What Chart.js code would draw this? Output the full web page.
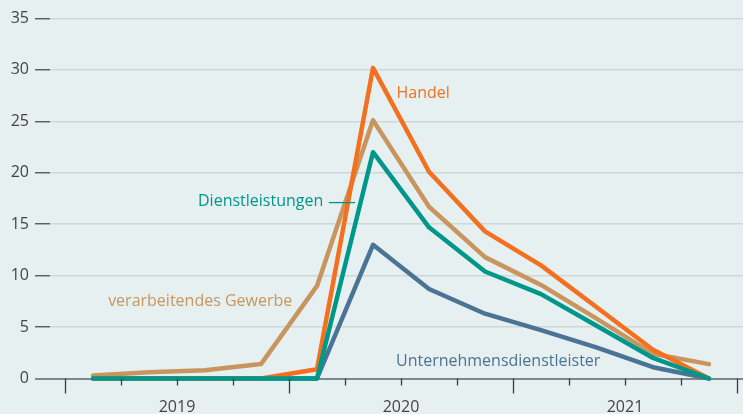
<!DOCTYPE html>
<html lang="de">
<head>
<meta charset="utf-8">
<script src="https://cdn.jsdelivr.net/npm/chart.js@4.4.1/dist/chart.umd.min.js"></script>
<style>
  html, body { margin: 0; padding: 0; background: #e7f0f1; }
  #wrap { width: 743px; height: 414px; }
</style>
</head>
<body>
<div id="wrap"><canvas id="chart"></canvas></div>
<script>
// Quartale 2019 Q1 bis 2021 Q4
const quarters = ['2019 Q1', '2019 Q2', '2019 Q3', '2019 Q4',
                  '2020 Q1', '2020 Q2', '2020 Q3', '2020 Q4',
                  '2021 Q1', '2021 Q2', '2021 Q3', '2021 Q4'];
const years = ['2019', '2020', '2021'];
const yearCenters = [1.5, 5.5, 9.5];
const yTicks = [0, 5, 10, 15, 20, 25, 30, 35];

const handel = [0, 0, 0, 0, 0.9, 30.2, 20.1, 14.3, 11.0, 6.9, 2.8, 0];
const gewerbe = [0.3, 0.6, 0.8, 1.4, 9.0, 25.1, 16.7, 11.8, 9.1, 5.8, 2.4, 1.4];
const dienstleistungen = [0, 0, 0, 0, 0, 22.0, 14.7, 10.4, 8.2, 5.1, 2.0, 0];
const unternehmensdienstleister = [0, 0, 0, 0, 0, 13.0, 8.7, 6.3, 4.7, 3.0, 1.1, 0];

const FONT = '"Open Sans", "Noto Sans", sans-serif';
const colors = {
    handel: '#f3701f',
    gewerbe: '#c8955f',
    dienst: '#00978b',
    unternehmen: '#4a7494'
};

function toPoints(values) {
    return values.map((v, i) => ({ x: i, y: v }));
}

function lineSet(label, values, color) {
    return {
        label: label,
        data: toPoints(values),
        borderColor: color,
        borderWidth: 4.5,
        pointRadius: 0,
        tension: 0,
        borderJoinStyle: 'round',
        borderCapStyle: 'round',
        clip: false
    };
}

// Beschriftungen direkt an den Linien (in Datenkoordinaten)
const seriesLabels = [
    { text: 'Handel', x: 5.42, y: 27.7, color: colors.handel },
    { text: 'Dienstleistungen', x: 1.875, y: 17.2, color: colors.dienst, leader: [4.21, 4.68] },
    { text: 'verarbeitendes Gewerbe', x: 0.27, y: 7.45, color: colors.gewerbe },
    { text: 'Unternehmensdienstleister', x: 5.41, y: 1.63, color: colors.unternehmen }
];

const quarterTicks = {
    id: 'quarterTicks',
    afterDraw(chart) {
        const ctx = chart.ctx;
        const x = chart.scales.x;
        const bottom = chart.chartArea.bottom;
        ctx.save();
        ctx.strokeStyle = '#3a3d3f';
        ctx.lineWidth = 1.3;
        for (let i = 0; i <= quarters.length; i++) {
            const px = Math.round(x.getPixelForValue(i - 0.5)) + 0.5;
            const len = i % 4 === 0 ? 15 : 7;
            ctx.beginPath();
            ctx.moveTo(px, bottom);
            ctx.lineTo(px, bottom + len);
            ctx.stroke();
        }
        ctx.restore();
    }
};

const lineLabels = {
    id: 'lineLabels',
    afterDatasetsDraw(chart) {
        const ctx = chart.ctx;
        const xs = chart.scales.x;
        const ys = chart.scales.y;
        ctx.save();
        ctx.font = '16px ' + FONT;
        ctx.textAlign = 'left';
        ctx.textBaseline = 'middle';
        seriesLabels.forEach(l => {
            ctx.fillStyle = l.color;
            ctx.fillText(l.text, xs.getPixelForValue(l.x), ys.getPixelForValue(l.y));
            if (l.leader) {
                const py = ys.getPixelForValue(l.y) + 1;
                ctx.strokeStyle = l.color;
                ctx.lineWidth = 1.3;
                ctx.beginPath();
                ctx.moveTo(xs.getPixelForValue(l.leader[0]), py);
                ctx.lineTo(xs.getPixelForValue(l.leader[1]), py);
                ctx.stroke();
            }
        });
        ctx.restore();
    }
};

new Chart(document.getElementById('chart'), {
    type: 'line',
    data: {
        datasets: [
            lineSet('Dienstleistungen', dienstleistungen, colors.dienst),
            lineSet('Handel', handel, colors.handel),
            lineSet('verarbeitendes Gewerbe', gewerbe, colors.gewerbe),
            lineSet('Unternehmensdienstleister', unternehmensdienstleister, colors.unternehmen)
        ]
    },
    options: {
        responsive: true,
        maintainAspectRatio: false,
        animation: false,
        layout: { padding: { top: 18.5, right: 0, bottom: 0, left: 0 } },
        plugins: {
            legend: { display: false },
            tooltip: { enabled: false }
        },
        scales: {
            x: {
                type: 'linear',
                min: -0.768,
                max: 11.607,
                border: { display: false },
                grid: { display: false, drawTicks: false, tickLength: 0 },
                ticks: {
                    autoSkip: false,
                    maxRotation: 0,
                    padding: 19,
                    color: '#444',
                    font: { family: FONT, size: 16 },
                    callback: (value, index) => years[index]
                },
                afterBuildTicks: scale => {
                    scale.ticks = yearCenters.map(v => ({ value: v }));
                },
                afterFit: scale => { scale.height = 35.5; }
            },
            y: {
                min: 0,
                max: 35,
                border: { display: false },
                grid: {
                    color: ctx => ctx.tick && ctx.tick.value === 0 ? '#80878a' : '#d0d7d8',
                    lineWidth: ctx => ctx.tick && ctx.tick.value === 0 ? 2 : 1.5,
                    tickColor: '#4a4d4f',
                    tickLength: 15,
                    tickWidth: 1.3
                },
                ticks: {
                    stepSize: 5,
                    padding: 6,
                    color: '#444',
                    font: { family: FONT, size: 16 }
                },
                afterBuildTicks: scale => {
                    scale.ticks = yTicks.map(v => ({ value: v }));
                },
                afterFit: scale => { scale.width = 50; }
            }
        }
    },
    plugins: [quarterTicks, lineLabels]
});
</script>
</body>
</html>
